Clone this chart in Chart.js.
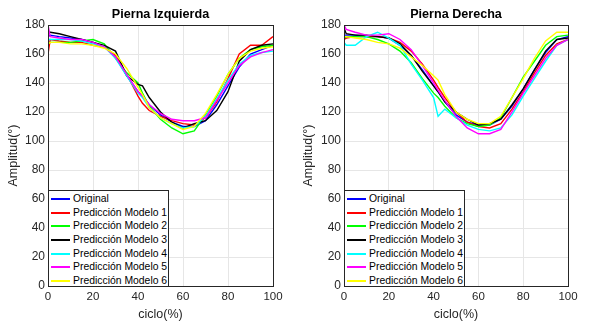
<!DOCTYPE html>
<html><head><meta charset="utf-8">
<script src="https://cdn.jsdelivr.net/npm/chart.js@4"></script>
<style>
html,body{margin:0;padding:0;background:#fff;width:589px;height:322px;overflow:hidden;font-family:"Liberation Sans",Arial,sans-serif}
.panel{position:absolute;top:0}
.legend{position:absolute;border:1px solid #262626;background:#fff;box-sizing:border-box;font-size:10.4px;color:#000;padding-top:1px}
.legend .row{display:flex;align-items:center;height:13.7px;white-space:nowrap;line-height:13.7px}
.legend .sw{display:inline-block;width:19px;height:2px;margin:0 3px 0 2px}
</style></head><body>
<div class="panel" style="left:0;width:295px;height:322px"><canvas id="c1" width="295" height="322"></canvas></div>
<div class="panel" style="left:295px;width:294px;height:322px"><canvas id="c2" width="294" height="322"></canvas></div>
<script>
// ---- data ----
const ciclo = [0, 1, 5, 10, 15, 20, 25, 30, 35, 40, 42, 45, 50, 55, 60, 65, 70, 75, 80, 85, 90, 95, 100];
const seriesNames = ['Original', 'Predicción Modelo 1', 'Predicción Modelo 2', 'Predicción Modelo 3',
                     'Predicción Modelo 4', 'Predicción Modelo 5', 'Predicción Modelo 6'];

// Pierna Izquierda
const izqOriginal = [172,173,172,171,170,168,165,158,145,134,131,125,118,113,110,110,114,125,138,151,160,163,166];
const izqModelo1  = [160,170,169,168,168,166,165,159,146,131,126,121,117,114,112,111,116,127,143,160,166,166,172];
const izqModelo2  = [167,168,168,168,169,170,167,157,147,140,133,124,115,109,105,107,118,131,146,157,163,165,166];
const izqModelo3  = [175,175,174,172,170,168,166,162,145,139,138,130,120,113,109,112,114,121,134,155,163,166,167];
const izqModelo4  = [170,170,170,170,169,167,165,157,145,133,130,123,116,112,109,110,117,129,142,153,159,161,162];
const izqModelo5  = [180,172,171,170,170,168,165,158,146,134,131,125,119,115,114,114,116,128,140,152,158,161,163];
const izqModelo6  = [167,168,168,167,167,166,164,160,150,137,132,123,116,112,108,110,119,132,146,157,162,164,165];

// Pierna Derecha
const derOriginal = [173,173,173,172,172,171,166,159,149,138,134,127,118,113,111,111,115,124,136,149,161,170,172];
const derModelo1  = [170,171,172,172,172,171,168,162,153,142,137,130,120,113,110,109,112,122,134,147,159,167,170];
const derModelo2  = [171,172,172,172,170,167,162,154,143,133,130,124,116,112,110,111,116,130,144,155,166,172,173];
const derModelo3  = [178,174,173,173,172,171,167,159,148,138,134,127,120,115,111,112,115,125,136,149,162,170,171];
const derModelo4  = [168,166,166,172,175,171,166,153,142,130,117,122,116,111,108,107,109,118,131,143,155,166,170];
const derModelo5  = [180,177,175,173,173,174,170,163,152,140,135,128,117,109,105,105,108,120,133,145,157,166,170];
const derModelo6  = [172,172,171,170,168,167,164,158,152,145,142,132,120,115,112,112,117,130,143,157,169,175,175];

const xTicks = [0, 20, 40, 60, 80, 100];
const yTicks = [0, 20, 40, 60, 80, 100, 120, 140, 160, 180];

// ---- styles ----
const colors = ['#0000ff', '#ff0000', '#00ff00', '#000000', '#00ffff', '#ff00ff', '#ffff00'];
const FONT = '"Liberation Sans", Arial, sans-serif';
const AX = '#262626';

function makeDatasets(list) {
  return list.map((arr, i) => ({
    label: seriesNames[i],
    data: ciclo.map((x, k) => ({x: x, y: arr[k]})),
    borderColor: colors[i],
    backgroundColor: colors[i],
    borderWidth: 1.4,
    pointRadius: 0,
    tension: 0,
    fill: false,
    order: list.length - i
  }));
}

const titlePlugin = {
  id: 'topTitle',
  afterDraw(chart, args, opts) {
    const {ctx, chartArea} = chart;
    ctx.save();
    ctx.font = 'bold 12.6px ' + FONT;
    ctx.fillStyle = '#000';
    ctx.textAlign = 'center';
    ctx.textBaseline = 'middle';
    ctx.fillText(opts.text, (chartArea.left + chartArea.right) / 2, 14.5);
    ctx.restore();
  }
};
const boxPlugin = {
  id: 'axBox',
  afterDatasetsDraw(chart) {
    const {ctx, chartArea: a} = chart;
    ctx.save();
    ctx.strokeStyle = AX;
    ctx.lineWidth = 1;
    ctx.strokeRect(Math.round(a.left) + 0.5, Math.round(a.top) + 0.5,
                   Math.round(a.right - a.left), Math.round(a.bottom - a.top));
    ctx.restore();
  }
};

function makeChart(id, panelLeft, title, lists, yWidth, padRight) {
  const chart = new Chart(document.getElementById(id), {
    type: 'line',
    data: {datasets: makeDatasets(lists)},
    plugins: [titlePlugin, boxPlugin],
    options: {
      responsive: false,
      animation: false,
      devicePixelRatio: 1,
      layout: {padding: {top: 25, right: padRight, left: 0, bottom: 0}},
      plugins: {
        legend: {display: false},
        tooltip: {enabled: false},
        topTitle: {text: title}
      },
      scales: {
        x: {
          type: 'linear', min: 0, max: 100,
          afterBuildTicks: s => { s.ticks = xTicks.map(v => ({value: v})); },
          afterFit: s => { s.height = 36; },
          ticks: {font: {family: FONT, size: 11.5}, color: AX, padding: 4, maxRotation: 0},
          grid: {color: '#e6e6e6', drawTicks: false, lineWidth: 1},
          border: {display: false},
          title: {display: true, text: 'ciclo(%)', font: {family: FONT, size: 12.5}, color: AX, padding: {top: 0, bottom: 0}}
        },
        y: {
          type: 'linear', min: 0, max: 180,
          afterBuildTicks: s => { s.ticks = yTicks.map(v => ({value: v})); },
          afterFit: s => { s.width = yWidth; },
          ticks: {font: {family: FONT, size: 12}, color: AX, padding: 3},
          grid: {color: '#e6e6e6', drawTicks: false, lineWidth: 1},
          border: {display: false},
          title: {display: true, text: 'Amplitud(°)', font: {family: FONT, size: 12.5}, color: AX, padding: {top: 6, bottom: 0}}
        }
      }
    }
  });
  // HTML legend inside the plot area, bottom-left
  const a = chart.chartArea;
  const lg = document.createElement('div');
  lg.className = 'legend';
  const h = 97;
  lg.style.left = (panelLeft + Math.round(a.left)) + 'px';
  lg.style.top = (Math.round(a.bottom) - h + 1) + 'px';
  lg.style.width = '121px';
  lg.style.height = h + 'px';
  chart.data.datasets.forEach(ds => {
    const row = document.createElement('div');
    row.className = 'row';
    const sw = document.createElement('span');
    sw.className = 'sw';
    sw.style.backgroundColor = ds.borderColor;
    const tx = document.createElement('span');
    tx.textContent = ds.label;
    row.appendChild(sw); row.appendChild(tx);
    lg.appendChild(row);
  });
  document.body.appendChild(lg);
  return chart;
}

makeChart('c1', 0, 'Pierna Izquierda',
  [izqOriginal, izqModelo1, izqModelo2, izqModelo3, izqModelo4, izqModelo5, izqModelo6], 48, 22);
makeChart('c2', 295, 'Pierna Derecha',
  [derOriginal, derModelo1, derModelo2, derModelo3, derModelo4, derModelo5, derModelo6], 49, 21);
</script>
</body></html>
